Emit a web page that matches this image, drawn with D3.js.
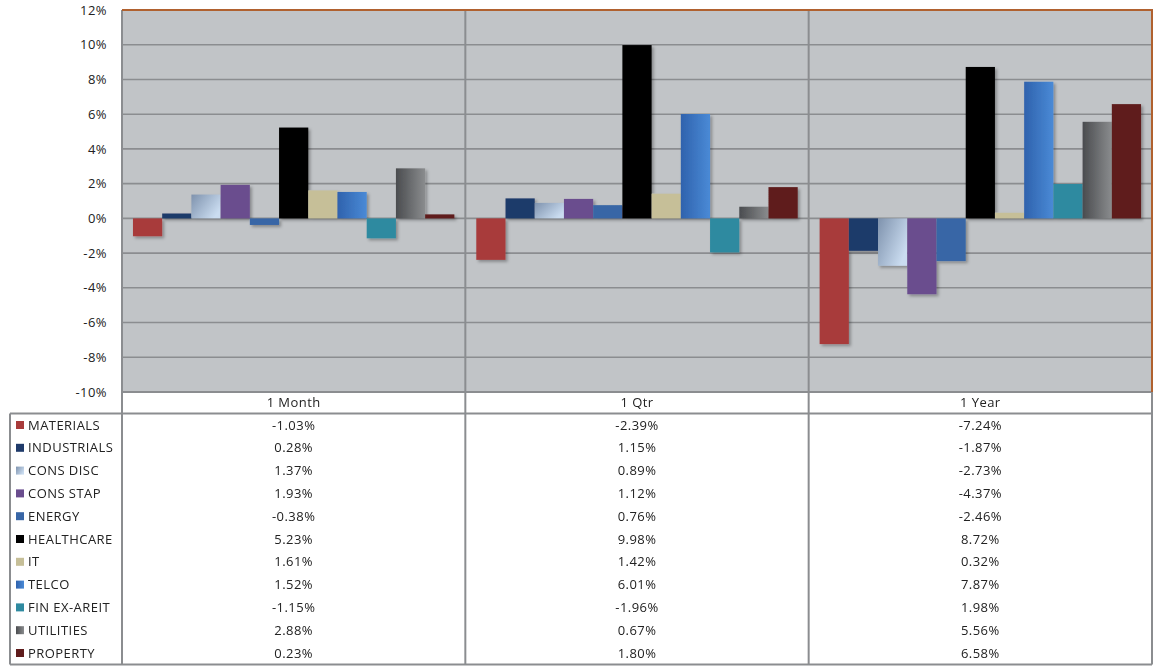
<!DOCTYPE html>
<html><head><meta charset="utf-8">
<script src="https://cdn.jsdelivr.net/npm/d3@7"></script>
<style>
body{margin:0;background:#fff;}
text{font-family:"Open Sans",Lato,sans-serif;fill:#222;letter-spacing:0.45px;}
</style></head>
<body><svg id="c" width="1160" height="666"></svg>
<script>
const periods = ["1 Month","1 Qtr","1 Year"];
const sectors = ["MATERIALS","INDUSTRIALS","CONS DISC","CONS STAP","ENERGY","HEALTHCARE","IT","TELCO","FIN EX-AREIT","UTILITIES","PROPERTY"];
const month = [-1.03,0.28,1.37,1.93,-0.38,5.23,1.61,1.52,-1.15,2.88,0.23];
const qtr   = [-2.39,1.15,0.89,1.12,0.76,9.98,1.42,6.01,-1.96,0.67,1.80];
const year  = [-7.24,-1.87,-2.73,-4.37,-2.46,8.72,0.32,7.87,1.98,5.56,6.58];
const yTicks = [-10,-8,-6,-4,-2,0,2,4,6,8,10,12];
const colorsA = ["#a83b3b","#1f3a6a","#7e92ad","#6a4d8e","#3866a6","#000000","#c6bf98","#2f62ad","#2f8aa0","#4a4c4f","#5f1c1c"];
const colorsB = ["#a83b3b","#1f3a6a","#cadcf0","#6a4d8e","#3866a6","#000000","#c6bf98","#4a8ad6","#2f8aa0","#8a8c8e","#5f1c1c"];

const series = [month, qtr, year];
const svg = d3.select("#c");
const L=122, R=1152, T=10, B=392;
const tableLeft=10, headBottom=413.6, rowH=22.8;

const defs = svg.append("defs");
sectors.forEach((s,i)=>{
  const g = defs.append("linearGradient").attr("id","g"+i).attr("x1","0").attr("y1","0").attr("x2","1").attr("y2",i===2?"0.6":"0");
  g.append("stop").attr("offset","0%").attr("stop-color",colorsA[i]);
  g.append("stop").attr("offset","100%").attr("stop-color",colorsB[i]);
});
const f = defs.append("filter").attr("id","sh").attr("x","-20%").attr("y","-20%").attr("width","150%").attr("height","150%");
f.append("feDropShadow").attr("dx",2).attr("dy",2).attr("stdDeviation",1.5).attr("flood-color","#000").attr("flood-opacity",0.3);

const y = d3.scaleLinear().domain([-10,12]).range([B,T]);
const x0 = d3.scaleBand().domain(periods).range([L,R]);
const x1 = d3.scaleBand().domain(sectors).range([0,x0.bandwidth()]).paddingInner(0).paddingOuter(0.375);

svg.append("rect").attr("x",L).attr("y",T).attr("width",R-L).attr("height",B-T).attr("fill","#c1c4c7");

svg.append("g").selectAll("line").data(yTicks.filter(t=>t>-10&&t<12)).join("line")
  .attr("x1",L).attr("x2",R).attr("y1",d=>y(d)).attr("y2",d=>y(d))
  .attr("stroke","#8b8d90").attr("stroke-width",1.6);

const gBars = svg.append("g").attr("filter","url(#sh)");
periods.forEach((p,pi)=>{
  gBars.append("g").attr("transform",`translate(${x0(p)},0)`)
    .selectAll("rect").data(sectors.map((s,i)=>({s,i,v:series[pi][i]}))).join("rect")
    .attr("x",d=>x1(d.s)).attr("width",x1.bandwidth())
    .attr("y",d=>y(Math.max(0,d.v))).attr("height",d=>Math.abs(y(d.v)-y(0)))
    .attr("fill",d=>"url(#g"+d.i+")");
});

const yAxis = d3.axisLeft(y).tickValues(yTicks).tickFormat(d=>d+"%").tickSize(0).tickPadding(15);
const ya = svg.append("g").attr("transform",`translate(${L},0)`).call(yAxis);
ya.select(".domain").remove();
ya.selectAll("text").style("font-family","'Open Sans',Lato,sans-serif").style("font-size","13px").style("letter-spacing","0.45px").attr("fill","#222");

svg.append("rect").attr("x",L).attr("y",B).attr("width",R-L).attr("height",headBottom-B).attr("fill","#fff");
periods.forEach((p,pi)=>{
  svg.append("text").attr("x",x0(p)+x0.bandwidth()/2).attr("y",(B+headBottom)/2).attr("dy","0.35em")
    .attr("text-anchor","middle").style("font-size","13px").text(p);
});
const rows = svg.append("g");
sectors.forEach((s,i)=>{
  const cy = headBottom + rowH*(i+0.5);
  rows.append("rect").attr("x",16).attr("y",cy-4).attr("width",8).attr("height",8).attr("fill","url(#g"+i+")");
  rows.append("text").attr("x",28).attr("y",cy).attr("dy","0.35em").style("font-size","13px").text(s);
  periods.forEach((p,pi)=>{
    const v = series[pi][i];
    rows.append("text").attr("x",x0(p)+x0.bandwidth()/2).attr("y",cy).attr("dy","0.35em")
      .attr("text-anchor","middle").style("font-size","13px").text(v.toFixed(2)+"%");
  });
});
const tableBottom = headBottom + rowH*sectors.length;

const gray="#8b8d90";
svg.append("line").attr("x1",tableLeft).attr("x2",R).attr("y1",headBottom).attr("y2",headBottom).attr("stroke",gray).attr("stroke-width",2);
svg.append("line").attr("x1",tableLeft).attr("x2",R).attr("y1",tableBottom).attr("y2",tableBottom).attr("stroke",gray).attr("stroke-width",2);
svg.append("line").attr("x1",tableLeft).attr("x2",tableLeft).attr("y1",headBottom).attr("y2",tableBottom).attr("stroke",gray).attr("stroke-width",2);
svg.append("line").attr("x1",L).attr("x2",R).attr("y1",B).attr("y2",B).attr("stroke",gray).attr("stroke-width",2);
[L, x0("1 Qtr"), x0("1 Year")].forEach(xx=>{
  svg.append("line").attr("x1",xx).attr("x2",xx).attr("y1",T).attr("y2",tableBottom).attr("stroke",gray).attr("stroke-width",2);
});
svg.append("line").attr("x1",R).attr("x2",R).attr("y1",B).attr("y2",tableBottom).attr("stroke",gray).attr("stroke-width",2);
svg.append("path").attr("d",`M${L},${T}H${R}V${B}`).attr("fill","none").attr("stroke","#b0612f").attr("stroke-width",2);
</script></body></html>
